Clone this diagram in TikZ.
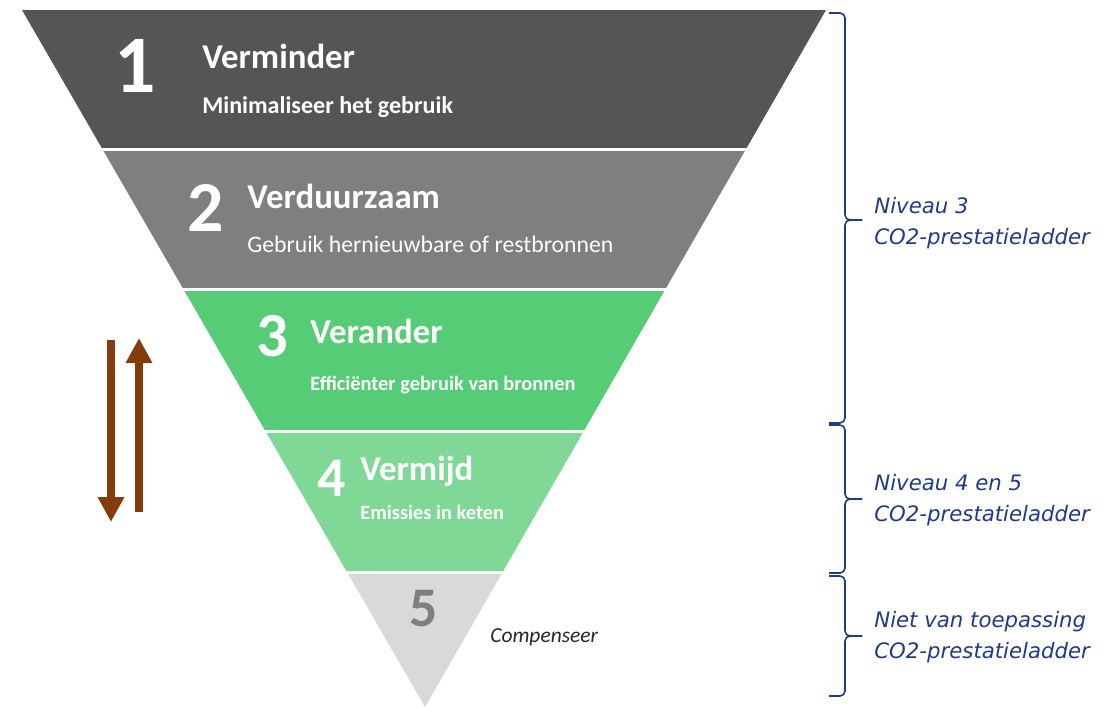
\documentclass[tikz,border=0pt]{standalone}
\usepackage{fontspec}
\setmainfont{Carlito}
\newfontfamily\levelfont{DejaVu Sans}
\usepackage{tikz}
\usetikzlibrary{arrows.meta}

\definecolor{bandA}{RGB}{85,85,85}
\definecolor{bandB}{RGB}{127,127,127}
\definecolor{bandC}{RGB}{86,204,118}
\definecolor{bandD}{RGB}{128,216,150}
\definecolor{bandE}{RGB}{217,217,217}
\definecolor{navy}{RGB}{31,58,136}
\definecolor{rust}{RGB}{132,60,12}

\begin{document}
\begin{tikzpicture}[x=0.02cm, y=-0.02cm]
    \tikzstyle{digit} = [text=white, inner sep=0pt]
    \tikzstyle{title} = [text=white, anchor=base west, inner sep=0pt, font=\fontsize{19.8}{24}\selectfont\bfseries]
    \tikzstyle{sub} = [text=white, anchor=base west, inner sep=0pt]
    \tikzstyle{level} = [text=navy, anchor=west, align=left, inner sep=0pt, font=\levelfont\itshape\fontsize{12.1}{17.5}\selectfont]
    \tikzstyle{bracket} = [navy, line width=0.9pt, rounded corners=0.1cm]
    \tikzstyle{flow} = [rust, line width=4.5pt, -{Triangle[width=0.5cm, length=0.5cm]}]

    \useasboundingbox (0,0) rectangle (1112,707);

    % funnel bands
    \begin{scope}
        \clip (22,10) -- (826,10) -- (425,707) -- cycle;
        \foreach \t/\b/\c in {10/148/bandA, 151/288/bandB, 291/430/bandC, 433/571/bandD, 574/707/bandE} {
            \fill[\c] (0,\t) rectangle (1112,\b);
        }
    \end{scope}

    \foreach \n/\x/\y/\s in {1/135/66/46.5, 2/206/208/40.8, 3/272/336/35.7, 4/332/478/31.8} {
        \node[digit, font=\fontsize{\s}{\s}\selectfont\bfseries] (num\n) at (\x,\y) {\n};
    }
    \node[digit, text=bandB, font=\fontsize{31.8}{31.8}\selectfont\bfseries] (num5) at (424,609) {5};

    \node[title] (verminder) at (202,68) {Verminder};
    \node[sub, font=\fontsize{13.7}{16}\selectfont\bfseries] (minimaliseer) at (202,113) {Minimaliseer het gebruik};
    \node[title] (verduurzaam) at (247,208) {Verduurzaam};
    \node[sub, font=\fontsize{13.5}{16}\selectfont] (hernieuwbaar) at (247,252) {Gebruik hernieuwbare of restbronnen};
    \node[title] (verander) at (310,343) {Verander};
    \node[sub, font=\fontsize{11.6}{14}\selectfont\bfseries] (efficient) at (310,390) {Efficiënter gebruik van bronnen};
    \node[title] (vermijd) at (360,480) {Vermijd};
    \node[sub, font=\fontsize{11.6}{14}\selectfont\bfseries] (emissies) at (360,519) {Emissies in keten};
    \node[sub, text=black!85, font=\fontsize{12.2}{14}\selectfont\itshape] (compenseer) at (490,642) {Compenseer};

    % up and down arrows
    \coordinate (downtop) at (111,340);
    \coordinate (downbot) at (111,522);
    \coordinate (upbot) at (139,512);
    \coordinate (uptop) at (139,338);
    \draw[flow] (downtop) -- (downbot);
    \draw[flow] (upbot) -- (uptop);

    % braces
    \foreach \i/\a/\m/\b in {1/13/220/423, 2/425/499/573, 3/576/636/696} {
        \coordinate (br\i a) at (829,\a);
        \coordinate (br\i m) at (862,\m);
        \coordinate (br\i b) at (829,\b);
        \draw[bracket] (br\i a) -- (845,\a) -- (845,\m) -- (br\i m);
        \draw[bracket] (br\i m) -- (845,\m) -- (845,\b) -- (br\i b);
    }
    \node[level] (lvl3) at (874,223) {Niveau 3\\CO2-prestatieladder};
    \node[level] (lvl45) at (874,500) {Niveau 4 en 5\\CO2-prestatieladder};
    \node[level] (lvlna) at (874,637) {Niet van toepassing\\CO2-prestatieladder};
\end{tikzpicture}
\end{document}
